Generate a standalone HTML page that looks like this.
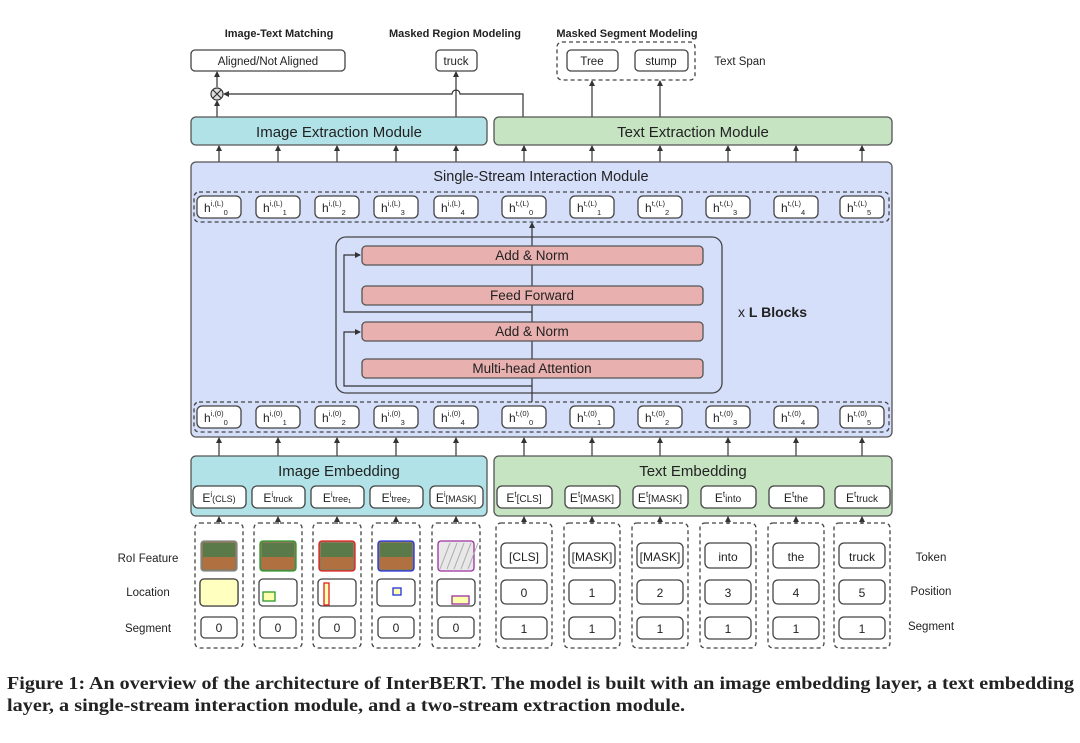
<!DOCTYPE html>
<html><head><meta charset="utf-8"><style>
body{margin:0;background:#fff;width:1080px;height:738px;overflow:hidden}
svg text{font-family:"Liberation Sans",sans-serif;fill:#222}
</style></head><body>
<svg id="s" width="1080" height="738" xmlns="http://www.w3.org/2000/svg">
<defs><marker id="a" viewBox="0 0 6 6" refX="5" refY="3" markerWidth="5" markerHeight="5" orient="auto"><path d="M0,0L6,3L0,6z" fill="#333"/></marker></defs>
<g id="g"></g>
</svg>
<script>
const g=document.getElementById('g');let h='';
const R=(x,y,w,hh,f,st,rx,dash)=>h+=`<rect x="${x}" y="${y}" width="${w}" height="${hh}" rx="${rx||4}" fill="${f||'#fff'}" stroke="${st||'#444'}" stroke-width="1.3" ${dash?'stroke-dasharray="4,3"':''}/>`;
const T=(x,y,t,s,extra)=>h+=`<text x="${x}" y="${y}" font-size="${s||12}" text-anchor="middle" ${extra||''}>${t}</text>`;
const A=(x,y1,y2)=>h+=`<line x1="${x}" y1="${y1}" x2="${x}" y2="${y2}" stroke="#333" stroke-width="1.2" marker-end="url(#a)"/>`;
const L=(d)=>h+=`<path d="${d}" fill="none" stroke="#333" stroke-width="1.2"/>`;
const ic=[219,278,337,396,456], tc=[524,592,660,728,796,862], all=ic.concat(tc);
T(279,37,'Image-Text Matching',11,'font-weight="bold"');T(455,37,'Masked Region Modeling',11,'font-weight="bold"');T(627,37,'Masked Segment Modeling',11,'font-weight="bold"');
R(191,50,154,21);T(268,65,'Aligned/Not Aligned',11.5);
R(436,50,41,21);T(456,65,'truck',11.5);
R(557,42,138,38,'none','#444',5,1);R(567,50,51,21);T(592,65,'Tree',11.5);R(635,50,53,21);T(661,65,'stump',11.5);
h+=`<text x="740" y="65" font-size="11.5" text-anchor="middle">Text Span</text>`;
h+=`<circle cx="217" cy="94" r="6" fill="#ddd" stroke="#333" stroke-width="1.2"/><path d="M213,90L221,98M221,90L213,98" stroke="#333" stroke-width="1.2"/>`;
A(217,117,101);A(217,87,72);
h+=`<path d="M523,117V94H460A4,4 0 0 0 452,94H224" fill="none" stroke="#333" stroke-width="1.2" marker-end="url(#a)"/>`;
A(456,117,72);A(592,117,81);A(660,117,81);
R(191,117,296,28,'#b0e2e7','#555',5);T(339,137,'Image Extraction Module',15);
R(494,117,398,28,'#c6e4c2','#555',5);T(693,137,'Text Extraction Module',15);
all.forEach(x=>A(x,162,146));
R(191,162,701,275,'#d5dffa','#555',5);T(541,181,'Single-Stream Interaction Module',14.5);
function hrow(y,sup){R(194,y,695,30,'none','#444',5,1);
 all.forEach((x,i)=>{const im=i<5;const k=im?i:i-5;R(x-22,y+4,44,22,'#fff','#444',5);
 h+=`<text x="${x-15}" y="${y+20}" font-size="12">h<tspan font-size="7.5" dy="-6">${im?'i':'t'},(${sup})</tspan><tspan font-size="7.5" dy="9">${k}</tspan></text>`;});}
hrow(192,'L');hrow(402,'0');
R(336,237,386,156,'none','#444',10);
L('M532,402V393');A(532,237,223);L('M532,393V237');
[[246,'Add &amp; Norm'],[286,'Feed Forward'],[322,'Add &amp; Norm'],[359,'Multi-head Attention']].forEach(([y,t])=>{R(362,y,341,19,'#e8b0ae','#555',4);T(532,y+14,t,13.5);});
h+=`<path d="M532,312H344V255H360" fill="none" stroke="#333" stroke-width="1.2" marker-end="url(#a)"/>`;
h+=`<path d="M532,386H344V332H360" fill="none" stroke="#333" stroke-width="1.2" marker-end="url(#a)"/>`;
h+=`<text x="738" y="317" font-size="14">x <tspan font-weight="bold">L Blocks</tspan></text>`;
all.forEach(x=>A(x,456,438));
R(191,456,296,60,'#b0e2e7','#555',5);T(339,476,'Image Embedding',15);
R(494,456,398,60,'#c6e4c2','#555',5);T(693,476,'Text Embedding',15);
const ie=['(CLS)','truck','tree₁','tree₂','[MASK]'],te=['[CLS]','[MASK]','[MASK]','into','the','truck'];
ie.forEach((s,i)=>{const x=ic[i];R(x-26,486,53,22,'#fff','#444',5);h+=`<text x="${x}" y="502" font-size="12" text-anchor="middle">E<tspan font-size="8" dy="-5">i</tspan><tspan font-size="9" dy="5">${s}</tspan></text>`;});
te.forEach((s,i)=>{const x=tc[i];R(x-27,486,55,22,'#fff','#444',5);h+=`<text x="${x}" y="502" font-size="12" text-anchor="middle">E<tspan font-size="8" dy="-5">t</tspan><tspan font-size="10" dy="5">${s}</tspan></text>`;});
all.forEach(x=>A(x,524,517));
const cols=['#888','#2a9a2a','#e02020','#2030e0','#9a30a0'];
const loc=[[0,0,38,26,'#ffffc0','#999'],[4,13,12,9,'#ffffb0','#2a9a2a'],[6,4,5,22,'#ffffb0','#e02020'],[16,9,8,7,'#ffffb0','#2030e0'],[15,17,17,8,'#ffffb0','#9a30a0']];
ic.forEach((x,i)=>{R(x-24,523,48,125,'none','#444',5,1);
 R(x-18,541,36,30,i==4?'#e8e8e8':'#8a7a5a',cols[i],3);
 if(i<4)h+=`<rect x="${x-16}" y="543" width="32" height="14" fill="#5b7a4a"/><rect x="${x-16}" y="557" width="32" height="12" fill="#b07040"/>`;
 else for(let k=0;k<5;k++)h+=`<line x1="${x-16+k*7}" y1="569" x2="${x-6+k*7}" y2="543" stroke="#aaa"/>`;
 R(x-19,579,38,27,'#fff','#444',4);const l=loc[i];
 if(i==0)R(x-19,579,38,27,l[4],'#444',4);else h+=`<rect x="${x-19+l[0]}" y="${579+l[1]}" width="${l[2]}" height="${l[3]}" fill="${l[4]}" stroke="${l[5]}" stroke-width="1.3"/>`;
 R(x-18,617,36,21,'#fff','#444',4);T(x,632,'0',12);});
const tok=['[CLS]','[MASK]','[MASK]','into','the','truck'];
tc.forEach((x,i)=>{R(x-28,523,56,125,'none','#444',5,1);
 R(x-23,543,46,25,'#fff','#444',5);T(x,561,tok[i],12);
 R(x-23,580,46,24,'#fff','#444',5);T(x,597,String(i),12);
 R(x-23,617,46,22,'#fff','#444',5);T(x,633,'1',12);});
T(148,562,'RoI Feature',11.5);T(148,596,'Location',11.5);T(148,632,'Segment',11.5);
T(931,561,'Token',11.5);T(931,595,'Position',11.5);T(931,630,'Segment',11.5);
h+=`<text x="7" y="689" font-size="17.5" font-weight="bold" textLength="1067" lengthAdjust="spacingAndGlyphs" style="font-family:'Liberation Serif',serif">Figure 1: An overview of the architecture of InterBERT. The model is built with an image embedding layer, a text embedding</text>`;
h+=`<text x="7" y="711" font-size="17.5" font-weight="bold" textLength="678" lengthAdjust="spacingAndGlyphs" style="font-family:'Liberation Serif',serif">layer, a single-stream interaction module, and a two-stream extraction module.</text>`;
g.innerHTML=h;
</script>
</body></html>
